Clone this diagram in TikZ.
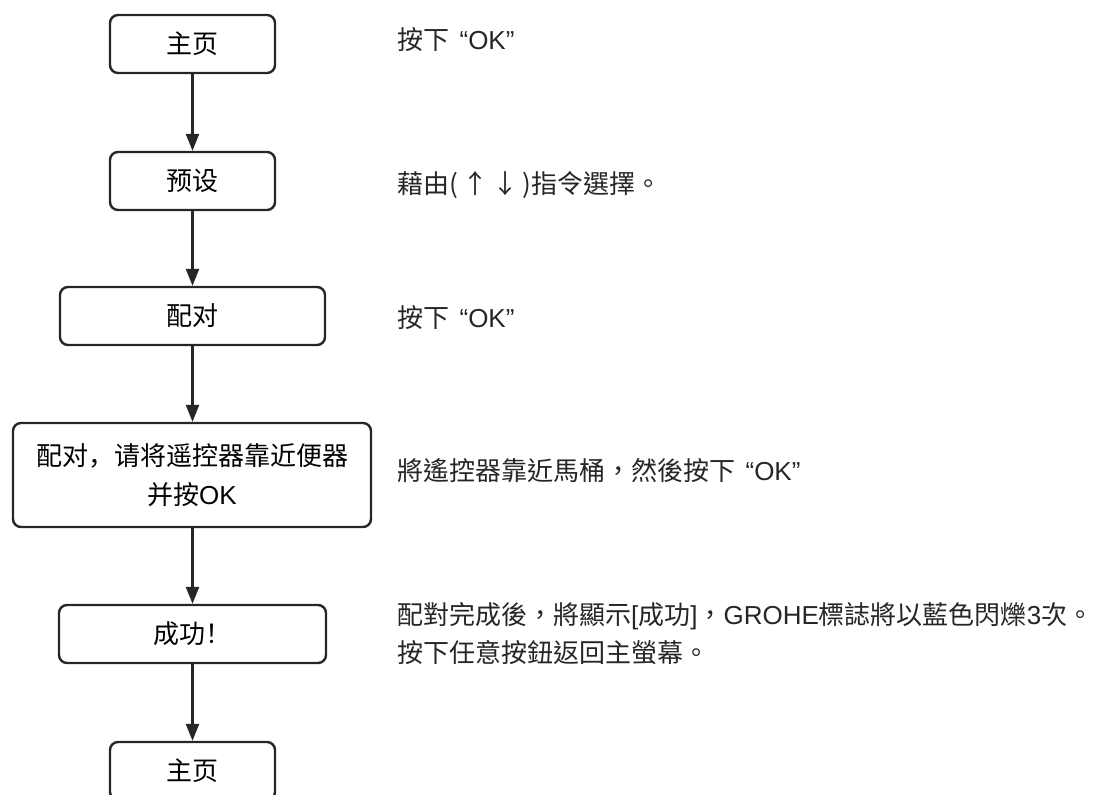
\documentclass[tikz,border=0pt]{standalone}
\usepackage{fontspec}
\setmainfont{Liberation Sans}
\newfontfamily\latn{Liberation Sans}
\newfontfamily\cjksc{Noto Sans CJK SC}
\newfontfamily\cjktc{Noto Sans CJK TC}
\usetikzlibrary{arrows.meta}
\begin{document}
\begin{tikzpicture}[x=1pt,y=-1pt,
  box/.style={draw=black!85, line width=2.4pt, rounded corners=8pt, minimum height=58pt, inner sep=0pt, align=center, font=\fontsize{26}{39}\selectfont\cjksc},
  note/.style={anchor=west, inner sep=0pt, align=left, text=black!85, font=\fontsize{26}{38}\selectfont\cjktc},
  flow/.style={draw=black!85, line width=2.4pt, -{Triangle[length=17pt,width=13pt]}}
]
\useasboundingbox (0,0) rectangle (1106,795);
\node[box, minimum width=165pt] (b1) at (192.5,44) {主页};
\node[box, minimum width=165pt] (b2) at (192.5,181) {预设};
\node[box, minimum width=265pt] (b3) at (192.5,316) {配对};
\node[box, minimum width=358pt, minimum height=104pt] (b4) at (192,475) {配对，请将遥控器靠近便器\\并按{\latn OK}};
\node[box, minimum width=267pt] (b5) at (192.5,634) {成功！};
\node[box, minimum width=165pt] (b6) at (192.5,771) {主页};

\draw[flow] (b1.south) -- (b2.north);
\draw[flow] (b2.south) -- (b3.north);
\draw[flow] (b3.south) -- (b3.south |- b4.north);
\draw[flow] (b3.south |- b4.south) -- (b5.north);
\draw[flow] (b5.south) -- (b6.north);

\node[note] (t1) at (397,40) {按下\hspace{0.4em}{\latn “OK”}};
\node[note] (t2) at (397,185) {藉由(\,↑\,↓\,)指令選擇。};
\node[note] (t3) at (397,318) {按下\hspace{0.4em}{\latn “OK”}};
\node[note] (t4) at (397,471) {將遙控器靠近馬桶，然後按下\hspace{0.4em}{\latn “OK”}};
\node[note] (t5) at (397,634) {配對完成後，將顯示{\latn{[}}成功{\latn{]}}，{\latn GROHE}標誌將以藍色閃爍{\latn 3}次。\\按下任意按鈕返回主螢幕。};
\end{tikzpicture}
\end{document}
